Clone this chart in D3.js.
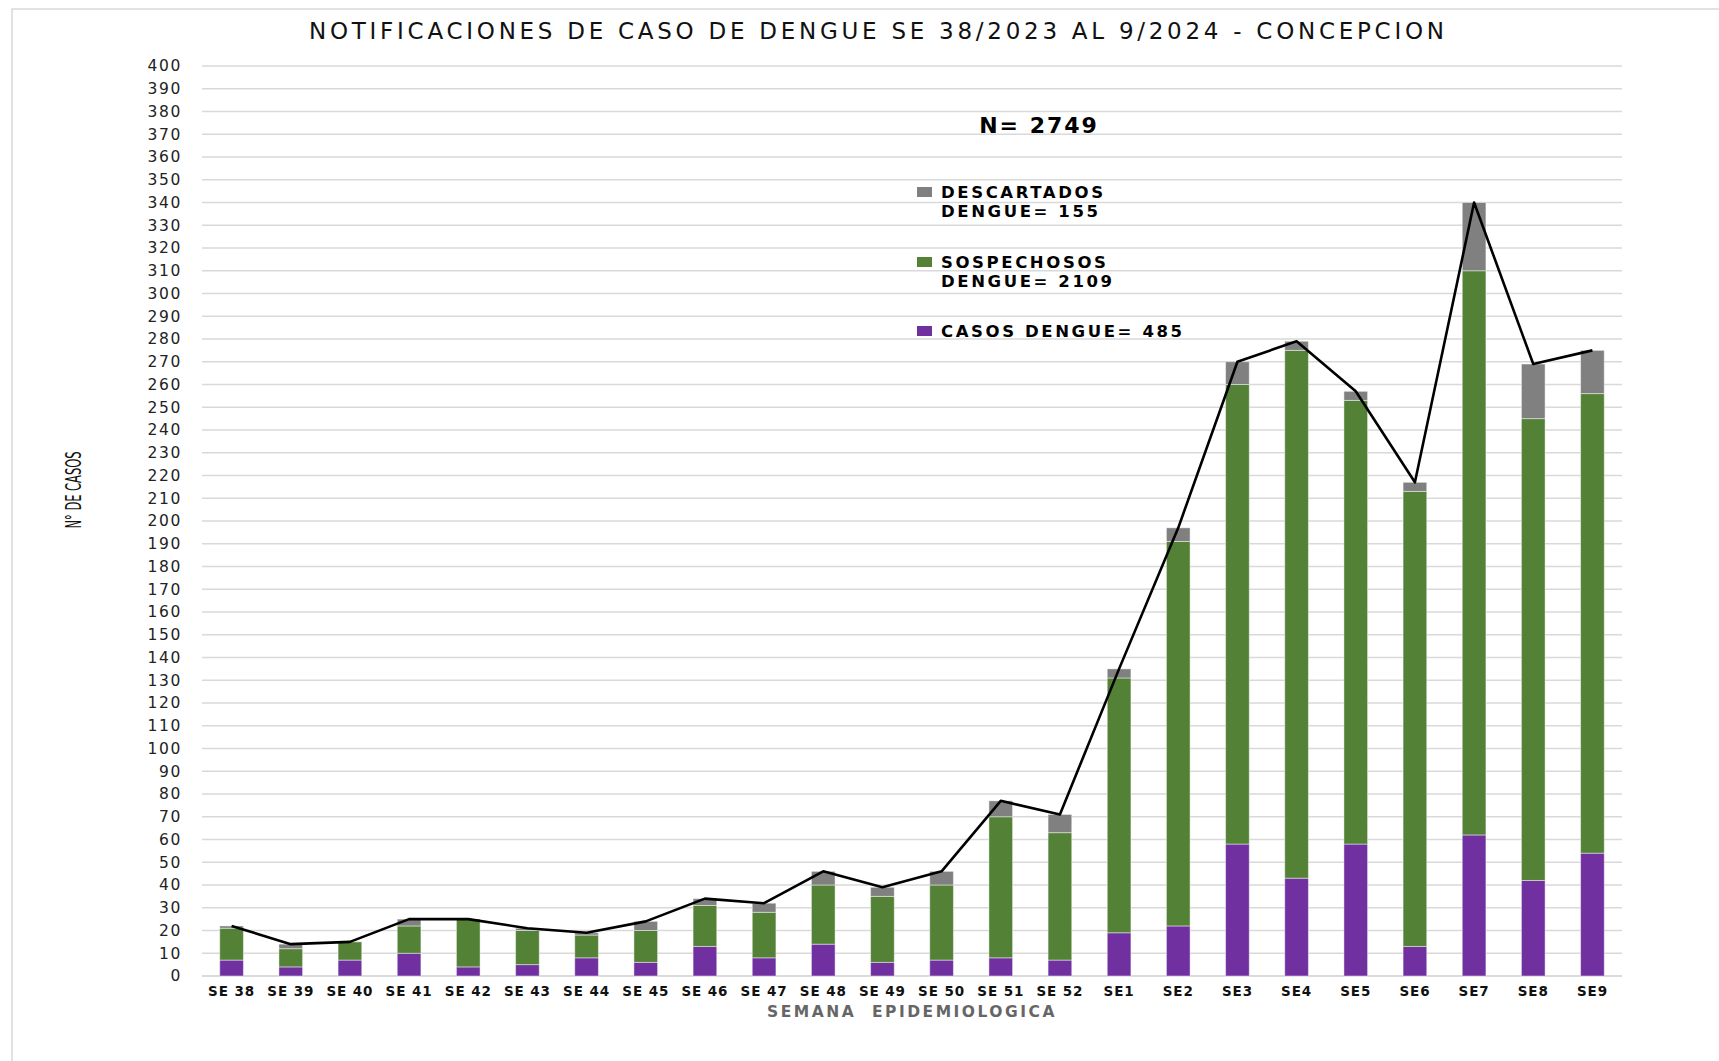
<!DOCTYPE html>
<html lang="es">
<head>
<meta charset="UTF-8">
<title>Notificaciones de caso de dengue - Concepcion</title>
<style>
  html, body { margin: 0; padding: 0; background: #fff; }
  svg { display: block; }
  .tick text { font-family: "DejaVu Sans", sans-serif; }
</style>
</head>
<body>
<svg id="chart" width="1719" height="1061"></svg>
<script src="https://d3js.org/d3.v7.min.js"></script>
<script>
const semanas = ['SE 38','SE 39','SE 40','SE 41','SE 42','SE 43','SE 44','SE 45','SE 46','SE 47',
  'SE 48','SE 49','SE 50','SE 51','SE 52','SE1','SE2','SE3','SE4','SE5','SE6','SE7','SE8','SE9'];
const casos        = [7, 4, 7, 10, 4, 5, 8, 6, 13, 8, 14, 6, 7, 8, 7, 19, 22, 58, 43, 58, 13, 62, 42, 54];
const sospechosos  = [14, 8, 8, 12, 21, 15, 10, 14, 18, 20, 26, 29, 33, 62, 56, 112, 169, 202, 232, 195, 200, 248, 203, 202];
const descartados  = [1, 2, 0, 3, 0, 1, 1, 4, 3, 4, 6, 4, 6, 7, 8, 4, 6, 10, 4, 4, 4, 30, 24, 19];
const yTicks = d3.range(0, 401, 10);

const series = [
  { key: 'casos', label: ['CASOS DENGUE= 485'], color: '#7030a0', values: casos },
  { key: 'sospechosos', label: ['SOSPECHOSOS', 'DENGUE= 2109'], color: '#538135', values: sospechosos },
  { key: 'descartados', label: ['DESCARTADOS', 'DENGUE= 155'], color: '#808080', values: descartados }
];

const rows = semanas.map((s, i) => ({ semana: s, casos: casos[i], sospechosos: sospechosos[i], descartados: descartados[i] }));
const totals = rows.map(r => ({ semana: r.semana, total: r.casos + r.sospechosos + r.descartados }));

const svg = d3.select('#chart');
const margin = { left: 202, right: 97, top: 66, bottom: 85 };
const W = 1719, H = 1061;

// outer chart border
svg.append('rect')
  .attr('x', 12).attr('y', 9).attr('width', W + 10).attr('height', H + 10)
  .attr('fill', 'none').attr('stroke', '#d9d9d9').attr('stroke-width', 1.5);

const x = d3.scaleBand().domain(semanas).range([margin.left, W - margin.right]).paddingInner(0.6).paddingOuter(0.3);
const y = d3.scaleLinear().domain([0, 400]).range([H - margin.bottom, margin.top]);

// gridlines
svg.append('g')
  .selectAll('line')
  .data(yTicks)
  .join('line')
  .attr('x1', margin.left).attr('x2', W - margin.right)
  .attr('y1', d => y(d)).attr('y2', d => y(d))
  .attr('stroke', '#d9d9d9').attr('stroke-width', 1.5);

// y axis labels
const yAxis = svg.append('g')
  .attr('transform', `translate(${margin.left - 20},0)`)
  .call(d3.axisLeft(y).tickValues(yTicks).tickSize(0).tickPadding(0));
yAxis.select('.domain').remove();
yAxis.selectAll('text').attr('font-size', 15.5).attr('fill', '#222').attr('letter-spacing', 1.6);

// x axis labels
const xAxis = svg.append('g')
  .attr('transform', `translate(0,${y(0)})`)
  .call(d3.axisBottom(x).tickSize(0).tickPadding(10));
xAxis.select('.domain').attr('stroke', '#d9d9d9').attr('stroke-width', 1.5)
  .attr('d', `M${margin.left},0H${W - margin.right}`);
xAxis.selectAll('text').attr('font-size', 13.5).attr('font-weight', 'bold').attr('fill', '#111')
  .attr('letter-spacing', 0.9);

// stacked bars
const stack = d3.stack().keys(series.map(s => s.key));
const stacked = stack(rows);
svg.append('g')
  .selectAll('g')
  .data(stacked)
  .join('g')
  .attr('fill', (d, i) => series[i].color)
  .selectAll('rect')
  .data(d => d.filter(v => v[1] > v[0]))
  .join('rect')
  .attr('x', d => x(d.data.semana))
  .attr('width', x.bandwidth())
  .attr('y', d => y(d[1]))
  .attr('height', d => y(d[0]) - y(d[1]))
  .attr('stroke', '#ffffff').attr('stroke-opacity', 0.45).attr('stroke-width', 1);

// total line
const line = d3.line()
  .x(d => x(d.semana) + x.bandwidth() / 2)
  .y(d => y(d.total));
svg.append('path')
  .datum(totals)
  .attr('d', line)
  .attr('fill', 'none')
  .attr('stroke', '#000')
  .attr('stroke-width', 2.6)
  .attr('stroke-linejoin', 'round');

// title
svg.append('text')
  .attr('x', 309).attr('y', 39)
  .attr('font-family', '"DejaVu Sans", sans-serif')
  .attr('font-size', 23)
  .attr('textLength', 1135)
  .attr('lengthAdjust', 'spacing')
  .attr('fill', '#111')
  .text('NOTIFICACIONES DE CASO DE DENGUE SE 38/2023 AL 9/2024 - CONCEPCION');

// N total
svg.append('text')
  .attr('x', 1039).attr('y', 133)
  .attr('text-anchor', 'middle')
  .attr('font-family', '"DejaVu Sans", sans-serif')
  .attr('font-weight', 'bold').attr('font-size', 22)
  .attr('letter-spacing', 2)
  .attr('fill', '#000')
  .text('N= ' + d3.sum(totals, d => d.total));

// legend
const legendY = { descartados: 193, sospechosos: 263, casos: 332 };
const legend = svg.append('g')
  .selectAll('g')
  .data(series)
  .join('g')
  .attr('transform', d => `translate(917,${legendY[d.key]})`);
legend.append('rect')
  .attr('x', 0).attr('y', -6).attr('width', 15).attr('height', 10)
  .attr('fill', d => d.color);
legend.append('text')
  .attr('font-family', '"DejaVu Sans", sans-serif')
  .attr('font-weight', 'bold').attr('font-size', 16.5)
  .attr('letter-spacing', 2.6)
  .attr('fill', '#000')
  .selectAll('tspan')
  .data(d => d.label)
  .join('tspan')
  .attr('x', 24)
  .attr('y', (d, i) => 5 + i * 19)
  .text(d => d);

// axis titles
svg.append('text')
  .attr('x', 912).attr('y', 1017)
  .attr('text-anchor', 'middle')
  .attr('font-family', '"DejaVu Sans", sans-serif')
  .attr('font-weight', 'bold').attr('font-size', 15.5)
  .attr('letter-spacing', 2.5)
  .attr('fill', '#666')
  .attr('xml:space', 'preserve')
  .text('SEMANA  EPIDEMIOLOGICA');

svg.append('text')
  .attr('transform', 'translate(81,490) rotate(-90)')
  .attr('text-anchor', 'middle')
  .attr('font-family', '"Liberation Sans Narrow", "DejaVu Sans Condensed", sans-serif')
  .attr('font-size', 21)
  .attr('textLength', 77)
  .attr('lengthAdjust', 'spacingAndGlyphs')
  .attr('fill', '#111')
  .text('N° DE CASOS');
</script>
</body>
</html>
